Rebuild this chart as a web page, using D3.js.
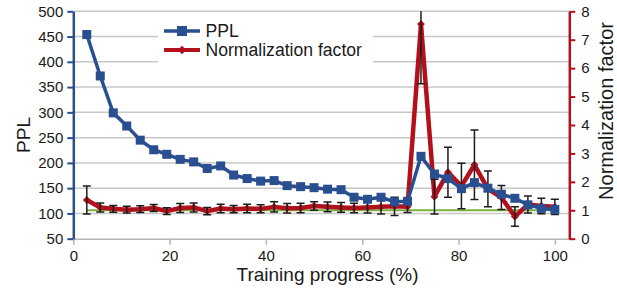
<!DOCTYPE html>
<html lang="en">
<head>
<meta charset="UTF-8">
<title>PPL and normalization factor</title>
<script src="https://d3js.org/d3.v7.min.js"></script>
<style>
  body { margin: 0; background: #fff; }
  text { font-family: "Liberation Sans", Arial, sans-serif; fill: #1a1a1a; }
</style>
</head>
<body>
<script>
    const width = 617
    const height = 295

    // training progress (%) at each checkpoint
    const progress = [2.8, 5.6, 8.3, 11.1, 13.9, 16.7, 19.4, 22.2, 25, 27.8, 30.6, 33.3,
        36.1, 38.9, 41.7, 44.4, 47.2, 50, 52.8, 55.6, 58.3, 61.1, 63.9, 66.7,
        69.4, 72.2, 75, 77.8, 80.6, 83.3, 86.1, 88.9, 91.7, 94.4, 97.2, 100]
    const ppl = [454, 372, 299, 273, 245, 226, 217, 207, 202, 189, 194, 176,
        169, 164, 165, 155, 153, 151, 148, 147, 132, 128, 132, 123,
        124, 213, 178, 169, 149, 161, 150, 138, 130, 117, 110, 108]
    const normFactor = [1.36, 1.1, 1.05, 1.02, 1.04, 1.08, 0.97, 1.08, 1.1, 0.97, 1.06, 1.04,
        1.06, 1.05, 1.12, 1.07, 1.08, 1.15, 1.12, 1.1, 1.08, 1.1, 1.12, 1.14,
        1.12, 7.55, 1.48, 2.34, 1.85, 2.6, 1.75, 1.45, 0.78, 1.2, 1.15, 1.12]
    const normError = [0.49, 0.16, 0.12, 0.12, 0.12, 0.12, 0.12, 0.16, 0.16, 0.13, 0.15, 0.13,
        0.15, 0.14, 0.18, 0.17, 0.17, 0.15, 0.17, 0.17, 0.17, 0.2, 0.25, 0.32,
        0.2, 2.1, 0.61, 0.88, 0.8, 1.22, 0.63, 0.42, 0.34, 0.3, 0.27, 0.27]
    const baselineX = [2.8, 100]
    const baselineY = [1, 1]

    const xTicks = [0, 20, 40, 60, 80, 100]
    const pplTicks = [50, 100, 150, 200, 250, 300, 350, 400, 450, 500]
    const normTicks = [0, 1, 2, 3, 4, 5, 6, 7, 8]

    const blue = "#2a4f91"
    const red = "#b3101b"
    const green = "#7ab03e"

    const pLeft = 73.3, pRight = 569.3, pTop = 11.3, pBottom = 238.7

    const svg = d3.select("body").append("svg")
        .attr("width", width).attr("height", height)

    const x = d3.scaleLinear().domain([0, 103]).range([pLeft, pRight])
    const yL = d3.scaleLinear().domain([50, 500]).range([pBottom, pTop])
    const yR = d3.scaleLinear().domain([0, 8]).range([pBottom, pTop])

    svg.append("defs").append("clipPath").attr("id", "plot")
        .append("rect").attr("x", pLeft - 10).attr("y", pTop).attr("width", pRight - pLeft + 20).attr("height", pBottom - pTop + 10)

    // grid
    svg.append("g").selectAll("line")
        .data(pplTicks.slice(1))
        .join("line")
        .attr("x1", pLeft).attr("x2", pRight)
        .attr("y1", d => yL(d)).attr("y2", d => yL(d))
        .attr("stroke", "#c8c8c8").attr("stroke-width", 1.5)

    // x axis
    const xAxis = svg.append("g")
        .attr("transform", `translate(0,${pBottom})`)
        .call(d3.axisBottom(x).tickValues(xTicks).tickSize(6).tickSizeOuter(0).tickPadding(6))
    xAxis.select(".domain").attr("stroke", "#b5b5b5").attr("stroke-width", 1.5)
    xAxis.selectAll(".tick line").attr("stroke", "#b5b5b5").attr("stroke-width", 1.5)
    xAxis.selectAll("text").attr("font-size", 15).attr("fill", "#1a1a1a").attr("font-family", null)

    // legend box
    const leg = svg.append("g")
    leg.append("rect").attr("x", 158).attr("y", 17).attr("width", 215).attr("height", 50).attr("fill", "#fff")

    const plot = svg.append("g").attr("clip-path", "url(#plot)")

    // reference line
    plot.append("path")
        .datum(baselineX.map((d, i) => [d, baselineY[i]]))
        .attr("fill", "none").attr("stroke", green).attr("stroke-width", 2)
        .attr("d", d3.line().x(d => x(d[0])).y(d => yR(d[1])))

    // normalization factor
    const normData = progress.map((p, i) => ({p, v: normFactor[i], e: normError[i]}))
    plot.append("path")
        .datum(normData)
        .attr("fill", "none").attr("stroke", red).attr("stroke-width", 4.5)
        .attr("stroke-linejoin", "round")
        .attr("d", d3.line().x(d => x(d.p)).y(d => yR(d.v)))
    plot.append("g").selectAll("path")
        .data(normData)
        .join("path")
        .attr("transform", d => `translate(${x(d.p)},${yR(d.v)})`)
        .attr("d", d3.symbol(d3.symbolDiamond2, 40))
        .attr("fill", red)

    // error bars
    const eb = plot.append("g").attr("stroke", "#1c1c1c").attr("stroke-width", 1.5).attr("fill", "none")
    eb.selectAll("path")
        .data(normData)
        .join("path")
        .attr("d", d => {
            const cx = x(d.p), y1 = yR(d.v + d.e), y2 = yR(d.v - d.e)
            return `M${cx - 4},${y1}H${cx + 4}M${cx},${y1}V${y2}M${cx - 4},${y2}H${cx + 4}`
        })

    // PPL
    const pplData = progress.map((p, i) => ({p, v: ppl[i]}))
    plot.append("path")
        .datum(pplData)
        .attr("fill", "none").attr("stroke", blue).attr("stroke-width", 3.5)
        .attr("stroke-linejoin", "round")
        .attr("d", d3.line().x(d => x(d.p)).y(d => yL(d.v)))
    plot.append("g").selectAll("rect")
        .data(pplData)
        .join("rect")
        .attr("x", d => x(d.p) - 4.5).attr("y", d => yL(d.v) - 4.5)
        .attr("width", 9).attr("height", 9)
        .attr("fill", blue)

    // left axis
    const yAxisL = svg.append("g")
        .attr("transform", `translate(${pLeft},0)`)
        .call(d3.axisLeft(yL).tickValues(pplTicks).tickSize(6).tickSizeOuter(0).tickPadding(4))
    yAxisL.select(".domain").attr("stroke", blue).attr("stroke-width", 2.5)
    yAxisL.selectAll(".tick line").attr("stroke", blue).attr("stroke-width", 2)
    yAxisL.selectAll("text").attr("font-size", 15).attr("fill", "#1a1a1a").attr("font-family", null)

    // right axis
    const yAxisR = svg.append("g")
        .attr("transform", `translate(${pRight},0)`)
        .call(d3.axisRight(yR).tickValues(normTicks).tickSize(6).tickSizeOuter(0).tickPadding(6))
    yAxisR.select(".domain").attr("stroke", red).attr("stroke-width", 2.5)
    yAxisR.selectAll(".tick line").attr("stroke", red).attr("stroke-width", 2)
    yAxisR.selectAll("text").attr("font-size", 15).attr("fill", "#1a1a1a").attr("font-family", null)

    // titles
    svg.append("text")
        .attr("x", 327.5).attr("y", 280.5)
        .attr("text-anchor", "middle").attr("font-size", 19)
        .text("Training progress (%)")
    svg.append("text")
        .attr("transform", `translate(29.5,${(pTop + pBottom) / 2 + 10}) rotate(-90)`)
        .attr("text-anchor", "middle").attr("font-size", 19)
        .text("PPL")
    svg.append("text")
        .attr("transform", `translate(613,${(pTop + pBottom) / 2 - 14}) rotate(-90)`)
        .attr("text-anchor", "middle").attr("font-size", 20)
        .text("Normalization factor")

    // legend entries
    leg.append("line").attr("x1", 164).attr("x2", 200).attr("y1", 31).attr("y2", 31)
        .attr("stroke", blue).attr("stroke-width", 3.5)
    leg.append("rect").attr("x", 177).attr("y", 26).attr("width", 10).attr("height", 10).attr("fill", blue)
    leg.append("text").attr("x", 205.5).attr("y", 37).attr("font-size", 17.6).text("PPL")
    leg.append("line").attr("x1", 164).attr("x2", 200).attr("y1", 50).attr("y2", 50)
        .attr("stroke", red).attr("stroke-width", 4)
    leg.append("path").attr("transform", "translate(182,50)")
        .attr("d", d3.symbol(d3.symbolDiamond2, 45)).attr("fill", red)
    leg.append("text").attr("x", 205.5).attr("y", 56).attr("font-size", 17.6).text("Normalization factor")
</script>
</body>
</html>
